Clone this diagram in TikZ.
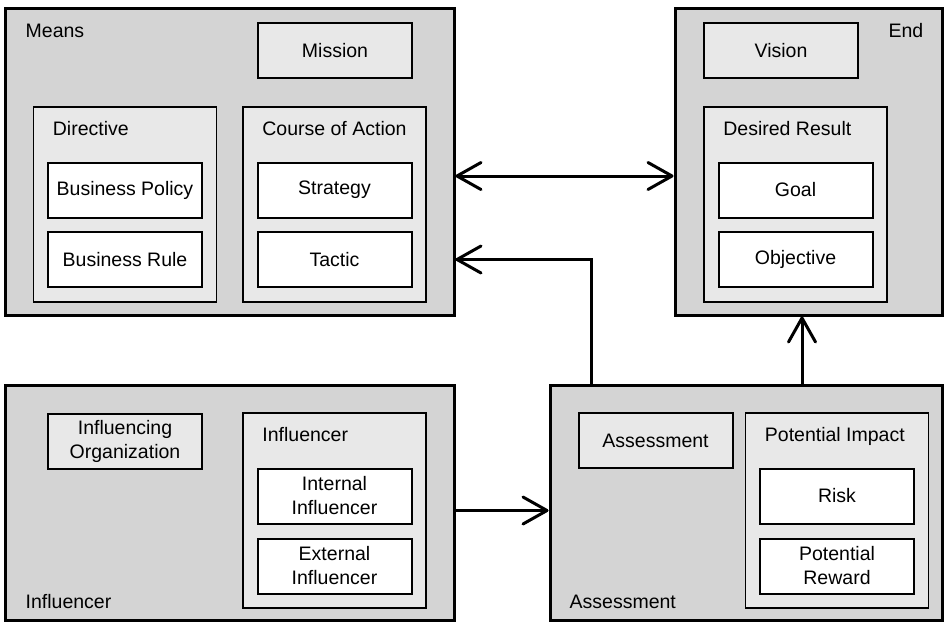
\documentclass[tikz,border=0pt]{standalone}
\usepackage{fontspec}
\setmainfont{Liberation Sans}
\usetikzlibrary{arrows.meta}
\definecolor{outerfill}{HTML}{D4D4D4}
\definecolor{innerfill}{HTML}{E8E8E8}
\tikzset{barb/.tip={Straight Barb[length=24pt,width=27pt,round]}}

\begin{document}
\begin{tikzpicture}[x=1pt, y=-1pt, font=\fontsize{19.5}{24}\selectfont,
  outerbox/.style={draw, line width=3pt, fill=outerfill},
  groupbox/.style={draw, line width=1.6pt, fill=innerfill, minimum width=183pt, minimum height=195pt},
  headbox/.style={draw, line width=2pt, fill=innerfill, minimum width=154pt, minimum height=55pt, align=center},
  leafbox/.style={draw, line width=2pt, fill=white, minimum width=154pt, minimum height=55pt, align=center},
  boxlabel/.style={inner sep=0pt},
  conn/.style={line width=3pt}]

\useasboundingbox (0,0) rectangle (944,622);

% outer areas
\node [outerbox, minimum width=449pt, minimum height=307pt] (means) at (229.5,161.5) {};
\node [outerbox, minimum width=267pt, minimum height=307pt] (endarea) at (808.5,161.5) {};
\node [outerbox, minimum width=449pt, minimum height=235pt] (influencer) at (229.5,502.5) {};
\node [outerbox, minimum width=392pt, minimum height=235pt] (assessment) at (746,502.5) {};

\node [boxlabel, anchor=base west] (meanslabel) at ([shift={(22,31)}]means.north west) {Means};
\node [boxlabel, anchor=base east] (endlabel) at ([shift={(-20,31)}]endarea.north east) {End};
\node [boxlabel, anchor=base west] (influencerlabel) at ([shift={(22,-13)}]influencer.south west) {Influencer};
\node [boxlabel, anchor=base west] (assessmentlabel) at ([shift={(21,-13)}]assessment.south west) {Assessment};

% means
\node [headbox] (mission) at (335,50.5) {Mission};
\node [groupbox] (directive) at (125,204.5) {};
\node [boxlabel, anchor=base west] at ([shift={(20,29)}]directive.north west) {Directive};
\node [leafbox] (policy) at (125,190) {Business Policy};
\node [leafbox] (rule) at (125,259.5) {Business Rule};
\node [groupbox] (course) at (334.5,204.5) {};
\node [boxlabel, anchor=base west] at ([shift={(20,29)}]course.north west) {Course of Action};
\node [leafbox] (strategy) at (334.5,190) {Strategy};
\node [leafbox] (tactic) at (334.5,259.5) {Tactic};

% end
\node [headbox] (vision) at (781,50.5) {Vision};
\node [groupbox] (desired) at (795.5,204.5) {};
\node [boxlabel, anchor=base west] at ([shift={(20,29)}]desired.north west) {Desired Result};
\node [leafbox] (goal) at (795.5,190) {Goal};
\node [leafbox] (objective) at (795.5,259.5) {Objective};

% influencer
\node [headbox] (organization) at (125,441) {Influencing\\Organization};
\node [groupbox] (influencers) at (334.5,510.5) {};
\node [boxlabel, anchor=base west] at ([shift={(20,29)}]influencers.north west) {Influencer};
\node [leafbox] (internal) at (334.5,496) {Internal\\Influencer};
\node [leafbox] (external) at (334.5,566) {External\\Influencer};

% assessment
\node [headbox] (assess) at (655.5,440.5) {Assessment};
\node [groupbox] (impact) at (837,510.5) {};
\node [boxlabel, anchor=base west] at ([shift={(20,29)}]impact.north west) {Potential Impact};
\node [leafbox] (risk) at (837,496) {Risk};
\node [leafbox] (reward) at (837,566) {Potential\\Reward};

% connectors
\coordinate (backfoot) at ([xshift=43pt]assessment.north west);
\coordinate (upfoot) at ([xshift=56pt]assessment.north);
\draw [conn, barb-barb] ([yshift=-14.5pt]means.east) -- ([yshift=-14.5pt]endarea.west);
\draw [conn, -barb] (backfoot) |- (means.east |- tactic);
\draw [conn, -barb] (influencer.east |- influencers) -- (assessment.west |- influencers);
\draw [conn, -barb] (upfoot) -- (upfoot |- endarea.south);
\end{tikzpicture}
\end{document}
